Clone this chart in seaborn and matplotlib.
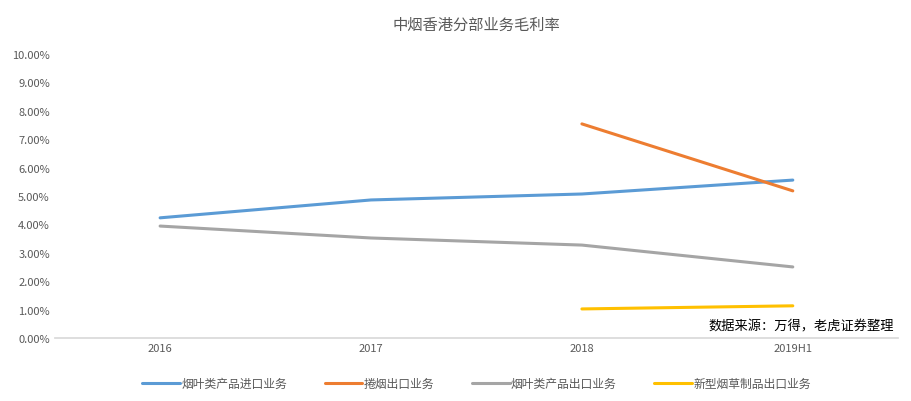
import matplotlib
matplotlib.use("Agg")
import matplotlib.pyplot as plt
import seaborn as sns
import pandas as pd
import numpy as np
from matplotlib.ticker import FuncFormatter

sns.set_theme(style="white")
plt.rcParams['font.family'] = ['Noto Sans CJK SC', 'DejaVu Sans']

categories = ["2016", "2017", "2018", "2019H1"]
s_import = [4.23, 4.86, 5.07, 5.56]
s_cig = [np.nan, np.nan, 7.54, 5.18]
s_export = [3.94, 3.52, 3.27, 2.50]
s_new = [np.nan, np.nan, 1.02, 1.13]
names = ["烟叶类产品进口业务", "捲烟出口业务", "烟叶类产品出口业务", "新型烟草制品出口业务"]
colors = ["#5B9BD5", "#ED7D31", "#A5A5A5", "#FFC000"]

rows = []
for n, vals in zip(names, [s_import, s_cig, s_export, s_new]):
    for i, (c, v) in enumerate(zip(categories, vals)):
        rows.append({"x": i, "cat": c, "series": n, "v": v})
df = pd.DataFrame(rows).dropna()

fig = plt.figure(figsize=(9.11, 4.02), dpi=100)
ax = fig.add_axes([0.060, 0.157, 0.926, 0.706])
sns.lineplot(data=df, x="x", y="v", hue="series", hue_order=names, palette=colors,
             linewidth=2.2, ax=ax, legend=True)
ax.set_xlim(-0.5, 3.5)
ax.set_ylim(0, 10)
ax.set_yticks(np.arange(0, 10.5, 1))
ax.yaxis.set_major_formatter(FuncFormatter(lambda v, p: f"{v:.2f}%"))
ax.set_xticks(range(4))
ax.set_xticklabels(categories)
ax.tick_params(labelsize=8, colors="#595959", length=0)
for s in ["top", "right", "left"]:
    ax.spines[s].set_visible(False)
ax.spines["bottom"].set_color("#D9D9D9")
ax.set_xlabel(""); ax.set_ylabel("")
ax.set_title("中烟香港分部业务毛利率", fontsize=11, color="#595959", pad=18)
h, l = ax.get_legend_handles_labels()
ax.legend(h, l, loc="upper center", bbox_to_anchor=(0.5, -0.1), ncol=4, frameon=False,
          fontsize=8.5, labelcolor="#595959", columnspacing=3.2, handlelength=3.2,
          handletextpad=0.1)
ax.text(0.995, 0.02, "数据来源：万得，老虎证券整理", transform=ax.transAxes, ha="right",
        va="bottom", fontsize=9.5, color="#000000")
fig.savefig("out.png", dpi=100)
